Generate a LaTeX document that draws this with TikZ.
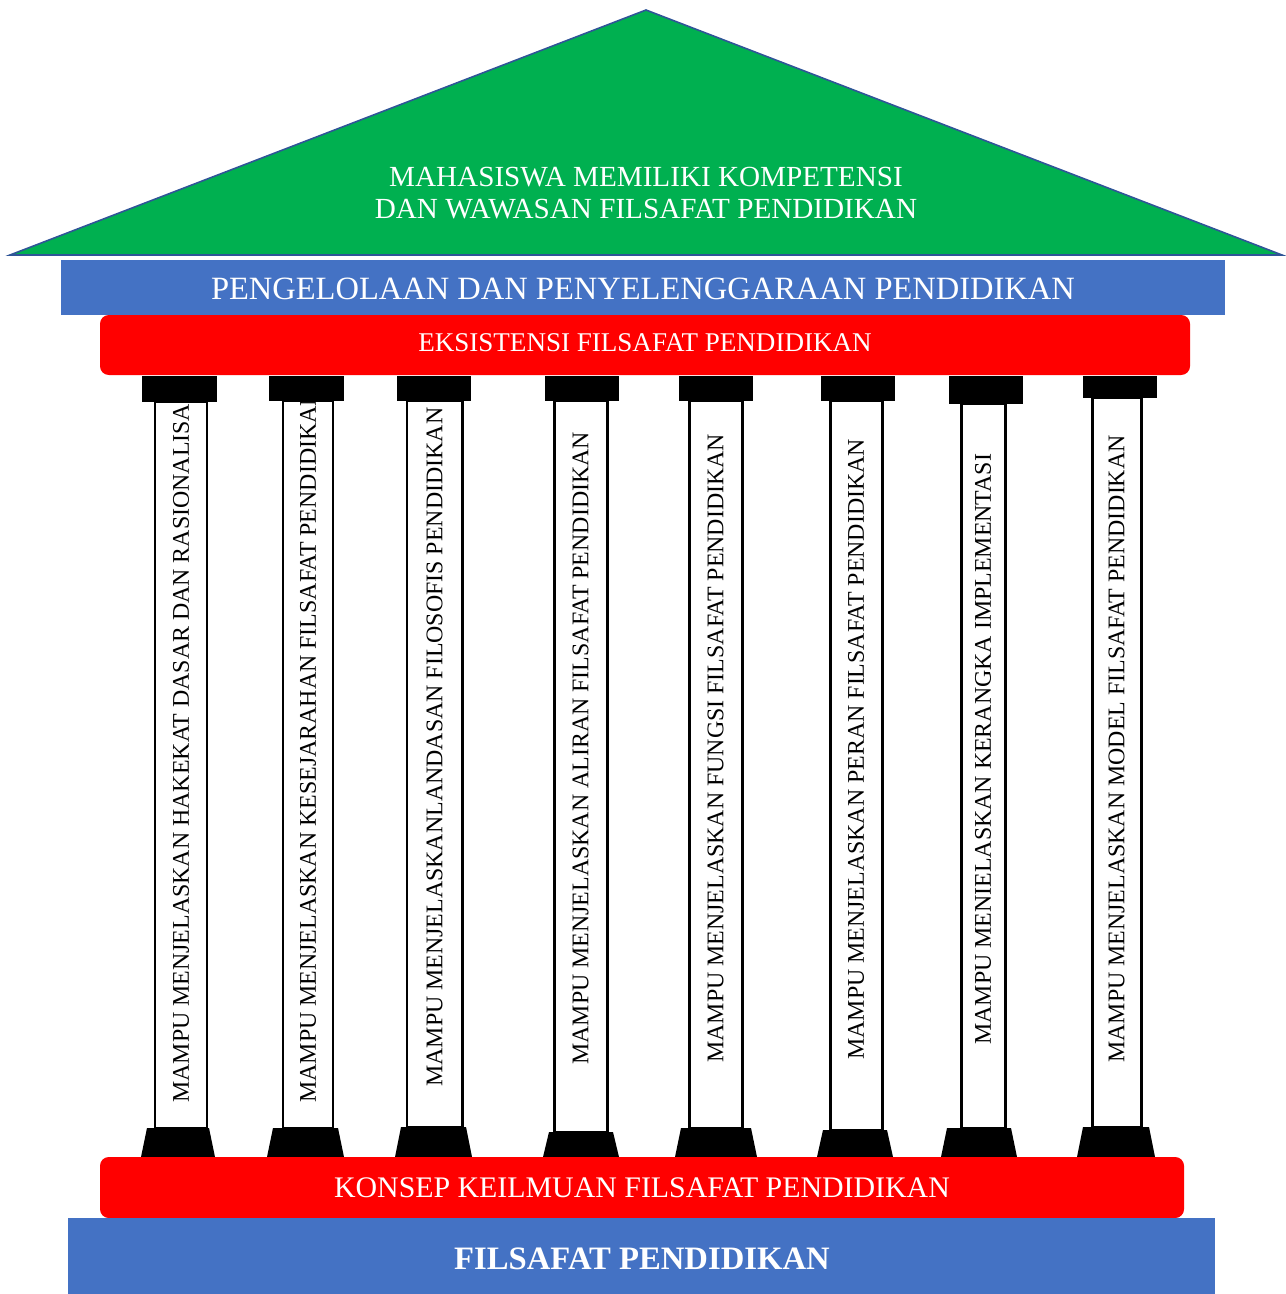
\documentclass[tikz,border=0pt]{standalone}
\usepackage{fontspec}
\setmainfont{Liberation Serif}

\definecolor{roofgreen}{HTML}{00B050}
\definecolor{roofline}{HTML}{2F5597}
\definecolor{bandblue}{HTML}{4472C4}
\definecolor{bandred}{HTML}{FF0000}

\tikzset{
  bandtext/.style={text=white, inner sep=0pt},
  pillartext/.style={rotate=90, anchor=west, inner sep=0pt,
    font=\fontsize{13.6}{16}\selectfont},
  redband/.style={fill=bandred, rounded corners=5pt}
}

\begin{document}
\begin{tikzpicture}[x=0.02cm, y=-0.02cm]
\useasboundingbox (0,0) rectangle (1285,1294);
% Roof
\draw[roofline, line width=0.9pt, fill=roofgreen] (10,255) -- (646,10) -- (1282,255) -- cycle;
\node[bandtext, align=center, font=\fontsize{16.6}{18.7}\selectfont] (goal) at (646,193)
  {MAHASISWA MEMILIKI KOMPETENSI\\DAN WAWASAN FILSAFAT PENDIDIKAN};
% Top bands
\fill[bandblue] (61,260) rectangle (1225,315);
\node[bandtext, font=\fontsize{18.5}{22}\selectfont] (kelola) at (643,289)
  {PENGELOLAAN DAN PENYELENGGARAAN PENDIDIKAN};
\fill[redband] (100,315) rectangle (1190,375);
\node[bandtext, font=\fontsize{15.4}{18}\selectfont] (eksis) at (645,343)
  {EKSISTENSI FILSAFAT PENDIDIKAN};
% Pillars
\foreach \capL/\capR/\capB/\shL/\shR/\baL/\baR/\baT/\txtY/\txt [count=\i] in {
  142/217/402/155/207/147/209/1128/1103/MAMPU MENJELASKAN HAKEKAT DASAR DAN RASIONALISASI,
  269/344/401/283/333/273/338/1128/1103/MAMPU MENJELASKAN KESEJARAHAN FILSAFAT PENDIDIKAN,
  397/471/401/407/462/401/466/1127/1087/MAMPU MENJELASKANLANDASAN FILOSOFIS PENDIDIKAN,
  545/619/401/554/607/549/613/1132/1065/MAMPU MENJELASKAN ALIRAN FILSAFAT PENDIDIKAN,
  679/753/401/689/742/681/751/1128/1063/MAMPU MENJELASKAN FUNGSI FILSAFAT PENDIDIKAN,
  821/895/401/830/882/823/887/1130/1060/MAMPU MENJELASKAN PERAN FILSAFAT PENDIDIKAN,
  949/1023/404/961/1005/947/1011/1128/1045/MAMPU MENIELASKAN KERANGKA IMPLEMENTASI,
  1083/1157/398/1092/1141/1083/1149/1127/1063/MAMPU MENJELASKAN MODEL FILSAFAT PENDIDIKAN}
{
  \draw[line width=1.7pt, fill=white] (\shL,\capB) rectangle (\shR,\baT);
  \begin{scope}
    \clip (\shL+1.5,\capB) rectangle (\shR-1.5,\baT);
    \node[pillartext] (p\i) at ({(\shL+\shR)/2},\txtY) {\txt};
  \end{scope}
  \fill[black] (\capL,376) rectangle (\capR,\capB);
  \fill[black] (\baL,\baT) -- (\baR,\baT) -- (\baR+6,1157) -- (\baL-6,1157) -- cycle;
}
% Bottom bands
\fill[redband] (100,1157) rectangle (1184,1218);
\node[bandtext, font=\fontsize{17}{20}\selectfont] (konsep) at (642,1188)
  {KONSEP KEILMUAN FILSAFAT PENDIDIKAN};
\fill[bandblue] (68,1218) rectangle (1215,1294);
\node[bandtext, font=\bfseries\fontsize{18.6}{22}\selectfont] (dasar) at (642,1259)
  {FILSAFAT PENDIDIKAN};
\end{tikzpicture}
\end{document}
